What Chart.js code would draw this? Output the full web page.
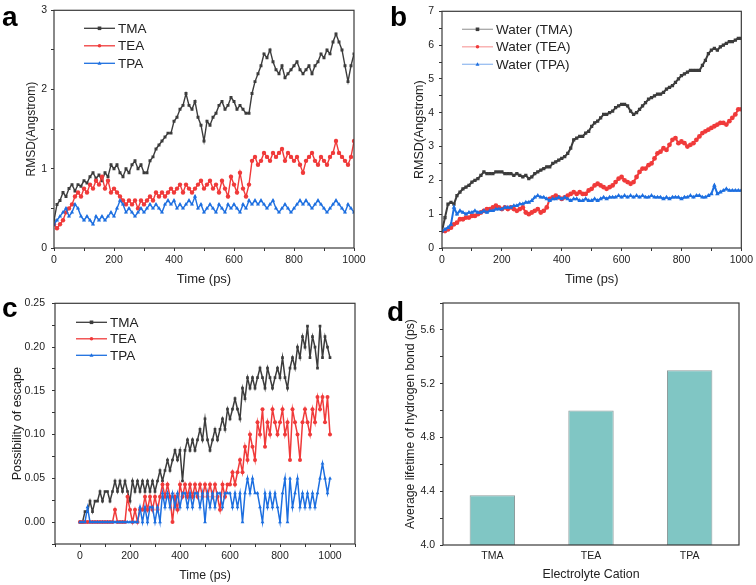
<!DOCTYPE html>
<html>
<head>
<meta charset="utf-8">
<script src="https://cdn.jsdelivr.net/npm/chart.js@4.4.0/dist/chart.umd.min.js"></script>
<style>
  body { margin: 0; background: #fff; width: 756px; height: 585px; position: relative; overflow: hidden; }
  .panel { position: absolute; }
  .tag { position: absolute; font: bold 28px "Liberation Sans", Arial, sans-serif; line-height: 28px; color: #000; }
</style>
</head>
<body>
<div class="panel" style="left:0;top:0"><canvas id="chartA" width="378" height="290"></canvas></div>
<div class="panel" style="left:378px;top:0"><canvas id="chartB" width="378" height="290"></canvas></div>
<div class="panel" style="left:0;top:290px"><canvas id="chartC" width="378" height="295"></canvas></div>
<div class="panel" style="left:378px;top:290px"><canvas id="chartD" width="378" height="295"></canvas></div>
<div class="tag" style="left:2px;top:3px">a</div>
<div class="tag" style="left:390px;top:3px">b</div>
<div class="tag" style="left:2px;top:294px">c</div>
<div class="tag" style="left:387px;top:298px">d</div>

<script>
// ---- data ----
const timePs = [0,10,20,30,40,50,60,70,80,90,100,110,120,130,140,150,160,170,180,190,200,
  210,220,230,240,250,260,270,280,290,300,310,320,330,340,350,360,370,380,390,400,
  410,420,430,440,450,460,470,480,490,500,510,520,530,540,550,560,570,580,590,600,
  610,620,630,640,650,660,670,680,690,700,710,720,730,740,750,760,770,780,790,800,
  810,820,830,840,850,860,870,880,890,900,910,920,930,940,950,960,970,980,990,1000];

// a: RMSD of cations
const rmsdTMA = [0.35,0.55,0.6,0.7,0.65,0.75,0.8,0.72,0.8,0.78,0.85,0.82,0.9,0.95,0.88,0.92,0.85,0.95,0.9,1.05,1.0,
  1.05,0.95,0.9,1.0,0.95,1.05,1.1,1.0,1.05,0.95,0.95,1.1,1.15,1.25,1.3,1.35,1.4,1.45,1.45,1.6,
  1.65,1.75,1.8,1.95,1.8,1.75,1.85,1.65,1.55,1.35,1.6,1.55,1.65,1.7,1.8,1.85,1.75,1.8,1.9,1.85,
  1.75,1.8,1.75,1.7,1.7,1.95,2.1,2.2,2.3,2.45,2.4,2.5,2.35,2.25,2.2,2.3,2.15,2.2,2.25,2.3,
  2.35,2.25,2.2,2.25,2.3,2.2,2.3,2.35,2.45,2.4,2.5,2.45,2.6,2.7,2.6,2.5,2.3,2.1,2.3,2.45];
const rmsdTEA = [0.3,0.25,0.3,0.35,0.45,0.5,0.55,0.65,0.7,0.65,0.75,0.7,0.8,0.75,0.85,0.8,0.9,0.75,0.85,0.7,0.75,
  0.7,0.65,0.6,0.55,0.6,0.55,0.6,0.5,0.6,0.55,0.6,0.65,0.6,0.7,0.65,0.7,0.65,0.7,0.75,0.7,
  0.75,0.8,0.7,0.8,0.75,0.7,0.75,0.8,0.85,0.75,0.8,0.85,0.75,0.8,0.7,0.85,0.75,0.65,0.9,0.8,
  0.7,0.95,0.75,0.65,0.8,1.1,1.15,1.05,1.1,1.2,1.15,1.1,1.2,1.15,1.2,1.25,1.1,1.2,1.15,1.1,
  1.15,1.05,0.95,1.1,1.15,1.2,1.1,1.05,1.15,1.1,1.05,1.15,1.2,1.35,1.2,1.15,1.1,1.05,1.15,1.35];
const rmsdTPA = [0.3,0.35,0.4,0.45,0.5,0.4,0.45,0.55,0.5,0.4,0.35,0.4,0.35,0.3,0.4,0.35,0.4,0.35,0.4,0.45,0.4,
  0.5,0.6,0.55,0.45,0.5,0.45,0.4,0.45,0.5,0.45,0.5,0.55,0.5,0.55,0.5,0.45,0.55,0.6,0.55,0.6,
  0.5,0.55,0.5,0.55,0.6,0.55,0.65,0.5,0.55,0.45,0.5,0.55,0.5,0.45,0.55,0.5,0.45,0.55,0.5,0.55,
  0.5,0.45,0.55,0.5,0.6,0.55,0.6,0.55,0.6,0.55,0.5,0.55,0.6,0.5,0.45,0.5,0.55,0.5,0.45,0.5,
  0.55,0.6,0.55,0.6,0.55,0.5,0.55,0.6,0.55,0.5,0.45,0.5,0.55,0.6,0.55,0.5,0.45,0.55,0.5,0.45];

// b: RMSD of water around each cation
const waterTMA = [0.5,0.9,1.3,1.35,1.3,1.55,1.65,1.75,1.8,1.85,1.95,2.0,2.05,2.15,2.25,2.2,2.2,2.2,2.25,2.25,2.25,
  2.2,2.2,2.2,2.15,2.2,2.15,2.1,2.15,2.05,2.1,2.2,2.25,2.3,2.35,2.4,2.4,2.5,2.55,2.6,2.65,
  2.7,2.8,2.95,3.2,3.25,3.3,3.3,3.4,3.45,3.6,3.7,3.75,3.85,3.95,3.95,4.0,4.05,4.15,4.2,4.25,
  4.25,4.2,4.05,3.95,4.0,4.1,4.2,4.3,4.4,4.45,4.5,4.55,4.55,4.6,4.7,4.75,4.8,4.9,5.0,5.1,
  5.15,5.2,5.25,5.25,5.25,5.25,5.4,5.55,5.75,5.85,5.9,5.85,5.95,6.0,6.05,6.1,6.1,6.15,6.2,6.2];
const waterTEA = [0.5,0.5,0.55,0.6,0.7,0.75,0.85,0.85,0.9,0.9,0.95,0.95,1.0,1.05,1.1,1.15,1.15,1.2,1.25,1.2,1.15,
  1.2,1.15,1.2,1.15,1.1,1.15,1.2,1.05,1.0,1.05,1.1,1.15,1.05,1.1,1.2,1.45,1.5,1.55,1.5,1.45,
  1.5,1.55,1.6,1.65,1.6,1.65,1.6,1.6,1.7,1.75,1.85,1.9,1.85,1.8,1.75,1.8,1.85,1.95,2.05,2.1,
  2.0,1.95,1.9,1.95,2.1,2.25,2.35,2.35,2.45,2.5,2.65,2.8,2.85,2.95,2.9,3.05,3.2,3.25,3.1,3.15,
  3.1,3.0,3.05,3.1,3.2,3.3,3.4,3.45,3.5,3.55,3.6,3.65,3.7,3.7,3.65,3.75,3.85,3.95,4.1,4.1];
const waterTPA = [0.5,0.55,0.6,0.7,1.2,1.0,1.1,1.05,1.0,1.05,1.05,1.1,1.05,1.05,1.1,1.05,1.1,1.1,1.15,1.15,1.15,
  1.2,1.2,1.2,1.25,1.25,1.3,1.3,1.35,1.35,1.4,1.5,1.55,1.5,1.5,1.45,1.4,1.45,1.45,1.5,1.45,
  1.5,1.45,1.4,1.45,1.45,1.4,1.4,1.45,1.4,1.4,1.45,1.4,1.45,1.5,1.45,1.5,1.5,1.5,1.55,1.5,
  1.55,1.5,1.55,1.5,1.55,1.5,1.55,1.5,1.5,1.55,1.5,1.5,1.5,1.45,1.5,1.45,1.5,1.5,1.5,1.45,
  1.5,1.5,1.55,1.5,1.55,1.55,1.5,1.5,1.55,1.6,1.85,1.6,1.65,1.7,1.75,1.7,1.7,1.7,1.7,1.7];

// c: possibility of escape
const escTMA = [0,0,0.012,0.012,0.024,0.012,0.024,0.024,0.035,0.024,0.035,0.035,0.024,0.035,0.047,0.035,0.047,0.035,0.047,0.035,0.024,
  0.047,0.035,0.047,0.035,0.047,0.035,0.047,0.035,0.047,0.035,0.047,0.059,0.047,0.059,0.071,0.059,0.071,0.082,0.071,0.082,
  0.047,0.082,0.094,0.082,0.094,0.082,0.094,0.106,0.094,0.118,0.094,0.082,0.094,0.106,0.094,0.106,0.118,0.106,0.129,0.118,
  0.129,0.141,0.129,0.118,0.153,0.141,0.165,0.153,0.165,0.153,0.165,0.176,0.165,0.153,0.176,0.165,0.153,0.165,0.176,0.165,
  0.188,0.165,0.153,0.176,0.188,0.176,0.2,0.188,0.212,0.2,0.224,0.188,0.212,0.2,0.176,0.224,0.188,0.212,0.2,0.188];
const escTEA = [0,0,0,0,0,0,0,0,0,0,0,0,0,0,0.014,0,0,0,0,0.029,0.014,
  0,0.014,0,0.014,0.014,0.029,0.014,0.029,0.014,0.029,0.014,0.029,0.043,0.029,0.043,0.029,0,0.029,0.014,0.043,
  0.029,0.043,0.029,0.043,0.029,0.043,0.029,0.043,0.029,0.043,0.029,0.043,0.029,0.043,0.029,0.014,0.043,0.029,0.043,0.043,
  0.057,0.043,0.057,0.071,0.057,0.086,0.071,0.1,0.086,0.071,0.114,0.1,0.129,0.086,0.114,0.1,0.129,0.114,0.1,0.114,
  0.129,0.1,0.114,0.071,0.129,0.114,0.1,0.071,0.114,0.129,0.114,0.1,0.129,0.114,0.143,0.129,0.143,0.114,0.143,0.1];
const escTPA = [0,0,0,0.017,0,0,0,0,0,0,0,0,0,0,0,0,0,0,0,0,0,
  0,0,0,0.017,0,0.017,0,0.017,0.017,0,0.017,0,0.033,0.017,0.033,0.017,0.033,0.017,0.033,0.017,
  0.033,0.033,0.017,0.033,0.017,0.033,0.033,0.017,0.033,0,0.033,0.017,0.033,0.017,0.033,0.033,0.017,0.033,0.033,0.033,
  0.017,0.033,0.017,0.033,0,0.033,0.05,0.033,0.05,0.033,0.033,0.017,0,0.033,0.017,0.033,0.017,0.033,0.017,0,
  0.033,0.05,0,0.05,0.017,0.033,0.05,0.017,0.033,0.017,0.033,0.017,0.033,0.017,0.033,0.05,0.067,0.05,0.033,0.05];

// d: average hydrogen-bond lifetime
const cations = ['TMA', 'TEA', 'TPA'];
const lifetimePs = [4.37, 5.0, 5.3];

// tick labels
const timeLabels = ['0', '200', '400', '600', '800', '1000'];
const rmsdALabels = ['0', '1', '2', '3'];
const rmsdBLabels = ['0', '1', '2', '3', '4', '5', '6', '7'];
const escLabels = ['0.00', '0.05', '0.10', '0.15', '0.20', '0.25'];
const lifeLabels = ['4.0', '4.4', '4.8', '5.2', '5.6'];

// ---- helpers ----
const FONT = '"Liberation Sans", Arial, sans-serif';
const INK = '#222';
const colTMA = '#3c3c3c', colTEA = '#f03a3a', colTPA = '#1d6fe0';

function axis(o) {
  const ticks = {
    autoSkip: false, maxRotation: 0, padding: o.pad,
    color: INK, font: { family: FONT, size: o.tickSize || 10.5 }
  };
  if (o.step) ticks.stepSize = o.step;
  if (o.fmt) ticks.callback = function (v) { const s = o.fmt(v); return o.labels.includes(s) ? s : ''; };
  return {
    type: o.type || 'linear',
    min: o.min, max: o.max,
    grid: { display: true, drawOnChartArea: false, drawTicks: !o.noTicks, tickLength: 3, color: '#333', lineWidth: 1 },
    border: { display: false },
    ticks,
    title: { display: true, text: o.title, color: INK, font: { family: FONT, size: o.titleSize }, padding: o.titlePad },
    afterFit: s => { if (o.w) s.width = o.w; if (o.h) s.height = o.h; }
  };
}

function series(label, values, color, style, r, bw, order) {
  return {
    label, order,
    data: values.map((v, i) => ({ x: timePs[i], y: v })),
    borderColor: color, backgroundColor: color, borderWidth: bw,
    pointStyle: style, pointRadius: r, pointBorderWidth: 0, pointHoverRadius: r,
    tension: 0
  };
}

function marker(ctx, style, x, y, r) {
  ctx.beginPath();
  if (style === 'rect') ctx.rect(x - r, y - r, 2 * r, 2 * r);
  else if (style === 'triangle') { ctx.moveTo(x, y - r * 1.2); ctx.lineTo(x + r * 1.1, y + r * 0.8); ctx.lineTo(x - r * 1.1, y + r * 0.8); ctx.closePath(); }
  else ctx.arc(x, y, r, 0, Math.PI * 2);
  ctx.fill();
}

const framePlugin = {
  id: 'frame',
  afterDraw(chart) {
    const { ctx, chartArea: a } = chart;
    ctx.save();
    ctx.strokeStyle = '#3a3a3a';
    ctx.lineWidth = 1.2;
    ctx.strokeRect(a.left, a.top, a.right - a.left, a.bottom - a.top);
    ctx.restore();
  }
};

const legendPlugin = {
  id: 'panelLegend',
  afterDraw(chart, args, opts) {
    if (!opts || !opts.show) return;
    const { ctx, chartArea: a } = chart;
    chart.data.datasets.forEach((ds, i) => {
      const x0 = a.left + opts.x, y = a.top + opts.y + i * opts.dy;
      ctx.save();
      ctx.globalAlpha = opts.fade || 1;
      ctx.strokeStyle = ds.borderColor;
      ctx.lineWidth = 1.3;
      ctx.beginPath(); ctx.moveTo(x0, y); ctx.lineTo(x0 + opts.len, y); ctx.stroke();
      ctx.globalAlpha = 1;
      ctx.fillStyle = ds.backgroundColor;
      marker(ctx, ds.pointStyle, x0 + opts.len / 2, y, 1.8);
      ctx.fillStyle = INK;
      ctx.font = opts.size + 'px ' + FONT;
      ctx.textBaseline = 'middle';
      ctx.fillText(ds.label, x0 + opts.len + 3, y + 0.5);
      ctx.restore();
    });
  }
};

Chart.register(framePlugin, legendPlugin);
Chart.defaults.animation = false;
Chart.defaults.responsive = false;
Chart.defaults.plugins.legend.display = false;
Chart.defaults.plugins.tooltip.enabled = false;

const fmtInt = v => String(Math.round(v * 1000) / 1000);

// ---- a ----
new Chart(document.getElementById('chartA'), {
  type: 'line',
  data: { datasets: [
    series('TMA', rmsdTMA, colTMA, 'rect', 2.1, 1.4, 3),
    series('TEA', rmsdTEA, colTEA, 'circle', 2.2, 1.4, 2),
    series('TPA', rmsdTPA, colTPA, 'triangle', 2.4, 1.4, 1)
  ] },
  options: {
    layout: { padding: { left: 0, top: 7, right: 24, bottom: 0 } },
    scales: {
      x: axis({ min: 0, max: 1000, step: 100, pad: 3, labels: timeLabels, fmt: fmtInt, title: 'Time (ps)', titleSize: 13, titlePad: { top: 0, bottom: 3 }, h: 42 }),
      y: axis({ min: 0, max: 3, step: 0.5, pad: 4, labels: rmsdALabels, fmt: fmtInt, title: 'RMSD(Angstrom)', titleSize: 12, titlePad: { top: 24, bottom: 0 }, w: 54 })
    },
    plugins: { panelLegend: { show: true, x: 30, y: 18, dy: 17.5, len: 31, size: 13.5 } }
  }
});

// ---- b ----
new Chart(document.getElementById('chartB'), {
  type: 'line',
  data: { datasets: [
    series('Water (TMA)', waterTMA, colTMA, 'rect', 2.3, 2, 3),
    series('Water (TEA)', waterTEA, colTEA, 'circle', 2.4, 2, 2),
    series('Water (TPA)', waterTPA, colTPA, 'triangle', 2.6, 2, 1)
  ] },
  options: {
    layout: { padding: { left: 0, top: 7, right: 13, bottom: 0 } },
    scales: {
      x: axis({ min: 0, max: 1000, step: 100, pad: 3, labels: timeLabels, fmt: fmtInt, title: 'Time (ps)', titleSize: 12.8, titlePad: { top: 0, bottom: 3 }, h: 42 }),
      y: axis({ min: 0, max: 7, step: 0.5, pad: 5, labels: rmsdBLabels, fmt: fmtInt, title: 'RMSD(Angstrom)', titleSize: 12.5, titlePad: { top: 34, bottom: 0 }, w: 64 })
    },
    plugins: { panelLegend: { show: true, x: 20, y: 18, dy: 17.5, len: 31, size: 13.5, fade: 0.45 } }
  }
});

// ---- c ----
new Chart(document.getElementById('chartC'), {
  type: 'line',
  data: { datasets: [
    series('TMA', escTMA, colTMA, 'rect', 1.9, 1.5, 3),
    series('TEA', escTEA, colTEA, 'circle', 2.0, 1.5, 2),
    series('TPA', escTPA, colTPA, 'triangle', 2.2, 1.5, 1)
  ] },
  options: {
    layout: { padding: { left: 0, top: 12, right: 23, bottom: 0 } },
    scales: {
      x: axis({ min: -100, max: 1100, step: 100, pad: 3, labels: timeLabels, fmt: fmtInt, title: 'Time (ps)', titleSize: 12.3, titlePad: { top: 0, bottom: 2 }, h: 41 }),
      y: axis({ min: -0.025, max: 0.25, step: 0.025, pad: 7, labels: escLabels, fmt: v => v.toFixed(2), title: 'Possibility of escape', titleSize: 12.5, titlePad: { top: 10, bottom: 0 }, w: 55 })
    },
    plugins: { panelLegend: { show: true, x: 21, y: 19, dy: 16.5, len: 31, size: 13.5 } }
  }
});

// ---- d ----
new Chart(document.getElementById('chartD'), {
  type: 'bar',
  data: {
    labels: cations,
    datasets: [{
      label: 'Average lifetime', data: lifetimePs,
      backgroundColor: '#80c6c4', borderColor: '#8e9c9c', borderWidth: 1,
      barPercentage: 0.46, categoryPercentage: 1
    }]
  },
  options: {
    layout: { padding: { left: 0, top: 13, right: 17, bottom: 0 } },
    scales: {
      x: axis({ type: 'category', pad: 5, noTicks: true, tickSize: 10.5, title: 'Electrolyte Cation', titleSize: 12.4, titlePad: { top: 0, bottom: 3 }, h: 40 }),
      y: axis({ min: 4.0, max: 5.8, step: 0.2, pad: 5, labels: lifeLabels, fmt: v => v.toFixed(1), title: 'Average lifetime of hydrogen bond (ps)', titleSize: 12.2, titlePad: { top: 25, bottom: 0 }, w: 65 })
    }
  }
});
</script>
</body>
</html>
